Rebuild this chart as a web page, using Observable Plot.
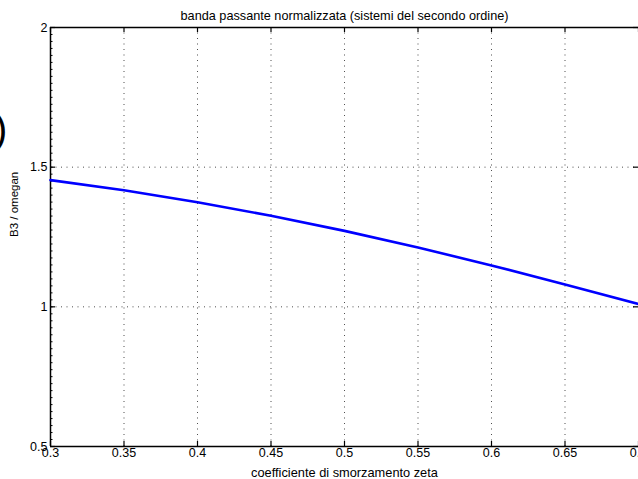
<!DOCTYPE html>
<html><head><meta charset="utf-8">
<script src="https://cdn.jsdelivr.net/npm/d3@7"></script>
<script src="https://cdn.jsdelivr.net/npm/@observablehq/plot@0.6"></script>
<style>
html,body{margin:0;padding:0;background:#fff;overflow:hidden;width:638px;height:479px}
#chart{position:relative;width:638px;height:479px}
#paren{position:absolute;left:0;top:0;pointer-events:none}
</style></head><body><div id="chart"></div>
<script>
const titleText = "banda passante normalizzata (sistemi del secondo ordine)";
const xLabelText = "coefficiente di smorzamento zeta";
const yLabelText = "B3 / omegan";
const zeta = [0.3, 0.35, 0.4, 0.45, 0.5, 0.55, 0.6, 0.65, 0.7];
const bandwidth = [1.4537, 1.4171, 1.3745, 1.3261, 1.2720, 1.2125, 1.1482, 1.0803, 1.0100];
const xTicks = [0.3, 0.35, 0.4, 0.45, 0.5, 0.55, 0.6, 0.65, 0.7];
const xTickLabels = ["0.3", "0.35", "0.4", "0.45", "0.5", "0.55", "0.6", "0.65", "0.7"];
const yTicks = [0.5, 1, 1.5, 2];
const yTickLabels = ["0.5", "1", "1.5", "2"];
const yMinorStep = 0.025;

const W = 638, H = 479;
const mL = 50, mR = 0, mT = 27, mB = 33;
const innerW = W - mL - mR, innerH = H - mT - mB;
const font = "'Liberation Sans', Arial, Helvetica, sans-serif";
const yMinor = d3.range(0, Math.round((yTicks[yTicks.length-1] - yTicks[0]) / yMinorStep) + 1).map(i => yTicks[0] + i * yMinorStep);
const data = zeta.map((z, i) => ({z, b: bandwidth[i]}));
const gridStyle = {stroke: "#222", strokeOpacity: 0.8, strokeWidth: 1, strokeDasharray: "1,4.5"};

const chart = Plot.plot({
  width: W, height: H,
  marginLeft: mL, marginRight: mR, marginTop: mT, marginBottom: mB,
  style: {fontFamily: font, background: "#fff", overflow: "visible"},
  x: {domain: [xTicks[0], xTicks[xTicks.length-1]], axis: null},
  y: {domain: [yTicks[0], yTicks[yTicks.length-1]], axis: null},
  marks: [
    Plot.gridX(xTicks.slice(1, -1), gridStyle),
    Plot.gridY(yTicks.slice(1, -1), gridStyle),
    // axis lines
    Plot.ruleX([xTicks[0]], {stroke: "#000", strokeWidth: 1.5}),
    Plot.ruleY([yTicks[0]], {stroke: "#000", strokeWidth: 1.5}),
    Plot.ruleY([yTicks[yTicks.length-1]], {stroke: "#000", strokeWidth: 1.5}),
    // inward major ticks
    Plot.tickX(xTicks, {x: d => d, insetTop: innerH - 5, stroke: "#000", strokeWidth: 1.2}),
    Plot.tickX(xTicks, {x: d => d, insetBottom: innerH - 5, stroke: "#000", strokeWidth: 1.2}),
    Plot.tickY(yTicks, {y: d => d, insetRight: innerW - 5, stroke: "#000", strokeWidth: 1.2}),
    Plot.tickY(yTicks, {y: d => d, insetLeft: innerW - 5, stroke: "#000", strokeWidth: 1.2}),
    // minor ticks on left axis
    Plot.tickY(yMinor, {y: d => d, insetRight: innerW - 2.5, stroke: "#000", strokeWidth: 1}),
    // the curve
    Plot.line(data, {x: "z", y: "b", stroke: "#0000ff", strokeWidth: 2.6}),
    // tick labels
    Plot.text(xTicks, {x: d => d, text: (d, i) => xTickLabels[i], frameAnchor: "bottom", lineAnchor: "top", dy: 2, fontSize: 12.5, fill: "#000"}),
    Plot.text(yTicks, {y: d => d, text: (d, i) => yTickLabels[i], frameAnchor: "left", textAnchor: "end", dx: -3, fontSize: 12.5, fill: "#000"}),
    // title and labels
    Plot.text([titleText], {text: d => d, frameAnchor: "top", lineAnchor: "bottom", dy: -8, fontSize: 12.7, fill: "#000"}),
    Plot.text([xLabelText], {text: d => d, frameAnchor: "bottom", lineAnchor: "middle", dy: 26, fontSize: 12.8, fill: "#000"}),
    Plot.text([yLabelText], {text: d => d, frameAnchor: "left", rotate: -90, lineAnchor: "middle", dx: -36, fontSize: 11.5, fill: "#000"})
  ]
});
const root = document.getElementById("chart");
root.appendChild(chart);
// stray parenthesis glyph visible at the left edge of the reference
const ns = "http://www.w3.org/2000/svg";
const ov = document.createElementNS(ns, "svg");
ov.setAttribute("id", "paren");
ov.setAttribute("width", 40); ov.setAttribute("height", 200);
const t = document.createElementNS(ns, "text");
t.setAttribute("x", -6); t.setAttribute("y", 143);
t.setAttribute("font-size", 40);
t.setAttribute("font-family", font);
t.textContent = ")";
ov.appendChild(t);
root.appendChild(ov);
</script>
</body></html>
